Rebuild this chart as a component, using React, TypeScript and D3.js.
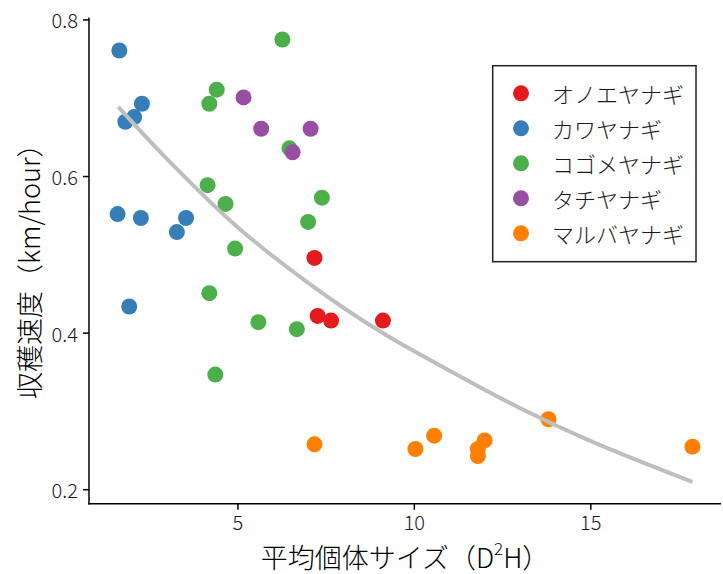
import React from 'react'
import * as d3 from 'd3'

// species order / colours (Set1)
const species = ['オノエヤナギ', 'カワヤナギ', 'コゴメヤナギ', 'タチヤナギ', 'マルバヤナギ']
const speciesColors = ['#E41A1C', '#377EB8', '#4DAF4A', '#984EA3', '#FF7F00']

// points per species: [size D2H, harvest speed km/hour]
const onoe: [number, number][] = [[7.17, 0.496], [7.26, 0.422], [7.64, 0.416], [9.11, 0.416]]
const kawa: [number, number][] = [
  [1.64, 0.761], [2.28, 0.693], [2.06, 0.676], [1.81, 0.67], [1.59, 0.552],
  [2.25, 0.547], [3.53, 0.547], [3.27, 0.529], [1.92, 0.434]
]
const kogome: [number, number][] = [
  [6.26, 0.775], [4.4, 0.711], [4.19, 0.693], [6.46, 0.636], [4.14, 0.589],
  [4.65, 0.565], [7.38, 0.573], [6.99, 0.542], [4.92, 0.508], [4.19, 0.451],
  [5.58, 0.414], [6.67, 0.405], [4.36, 0.347]
]
const tachi: [number, number][] = [[5.16, 0.701], [5.66, 0.661], [7.06, 0.661], [6.55, 0.631]]
const maruba: [number, number][] = [
  [7.17, 0.258], [10.03, 0.252], [10.56, 0.269], [11.8, 0.252], [11.8, 0.243],
  [11.99, 0.263], [13.8, 0.29], [17.88, 0.255]
]
const seriesValues = [onoe, kawa, kogome, tachi, maruba]

// fitted trend line
const trend: [number, number][] = [
  [1.61, 0.689], [3, 0.622], [5, 0.535], [7, 0.464], [9, 0.403],
  [11, 0.352], [13, 0.304], [15, 0.262], [17.88, 0.21]
]

const xTicks = [5, 10, 15]
const yTicks = [0.2, 0.4, 0.6, 0.8]

const W = 723
const H = 574
const FONT = '"Noto Sans CJK JP", "Noto Sans", sans-serif'

export default function App() {
  const x = d3.scaleLinear().domain([0.78, 18.69]).range([89, 721])
  const y = d3.scaleLinear().domain([0.182, 0.803]).range([503.8, 17.6])

  const line = d3.line<[number, number]>()
    .x(d => x(d[0]))
    .y(d => y(d[1]))
    .curve(d3.curveCatmullRom)

  const [x0, x1] = x.range()
  const [yb, yt] = y.range()

  return (
    <svg width={W} height={H} style={{ position: 'absolute', left: 0, top: 0, background: '#fff' }}
      fontFamily={FONT} fontWeight={300}>
      {/* points */}
      {seriesValues.map((pts, i) => (
        <g key={species[i]} fill={speciesColors[i]}>
          {pts.map((p, j) => <circle key={j} cx={x(p[0])} cy={y(p[1])} r={8} />)}
        </g>
      ))}

      <path d={line(trend) || ''} fill="none" stroke="#bebebe" strokeWidth={4} />

      {/* axes */}
      <line x1={x0} x2={x0} y1={yt} y2={yb + 0.75} stroke="#000" strokeWidth={1.5} />
      <line x1={x0 - 0.75} x2={x1} y1={yb} y2={yb} stroke="#000" strokeWidth={1.5} />
      {yTicks.map(t => (
        <g key={t}>
          <line x1={x0 - 6} x2={x0} y1={y(t)} y2={y(t)} stroke="#000" strokeWidth={1.5} />
          <text x={x0 - 11} y={y(t)} textAnchor="end" dominantBaseline="central" fontSize={20} fill="#1a1a1a">
            {t.toFixed(1)}
          </text>
        </g>
      ))}
      {xTicks.map(t => (
        <g key={t}>
          <line x1={x(t)} x2={x(t)} y1={yb} y2={yb + 6} stroke="#000" strokeWidth={1.5} />
          <text x={x(t)} y={yb + 18} textAnchor="middle" dominantBaseline="central" fontSize={20} fill="#1a1a1a">
            {t}
          </text>
        </g>
      ))}

      {/* axis titles */}
      <text x={(x0 + x1) / 2} y={556} textAnchor="middle" dominantBaseline="central" fontSize={27} fill="#000">
        平均個体サイズ（D<tspan dy={-9} fontSize={17}>2</tspan><tspan dy={9}>H）</tspan>
      </text>
      <text transform={`translate(28,${(yt + yb) / 2 + 4}) rotate(-90)`} textAnchor="middle"
        dominantBaseline="central" fontSize={27} fill="#000">
        収穫速度（km/hour）
      </text>

      {/* legend */}
      <rect x={492.7} y={65.7} width={203.3} height={196} fill="#fff" stroke="#222" strokeWidth={1.5} />
      {species.map((s, i) => (
        <g key={s}>
          <circle cx={521} cy={93.3 + i * 35} r={8} fill={speciesColors[i]} />
          <text x={552} y={93.3 + i * 35} dominantBaseline="central" fontSize={22} fill="#1a1a1a">{s}</text>
        </g>
      ))}
    </svg>
  )
}
